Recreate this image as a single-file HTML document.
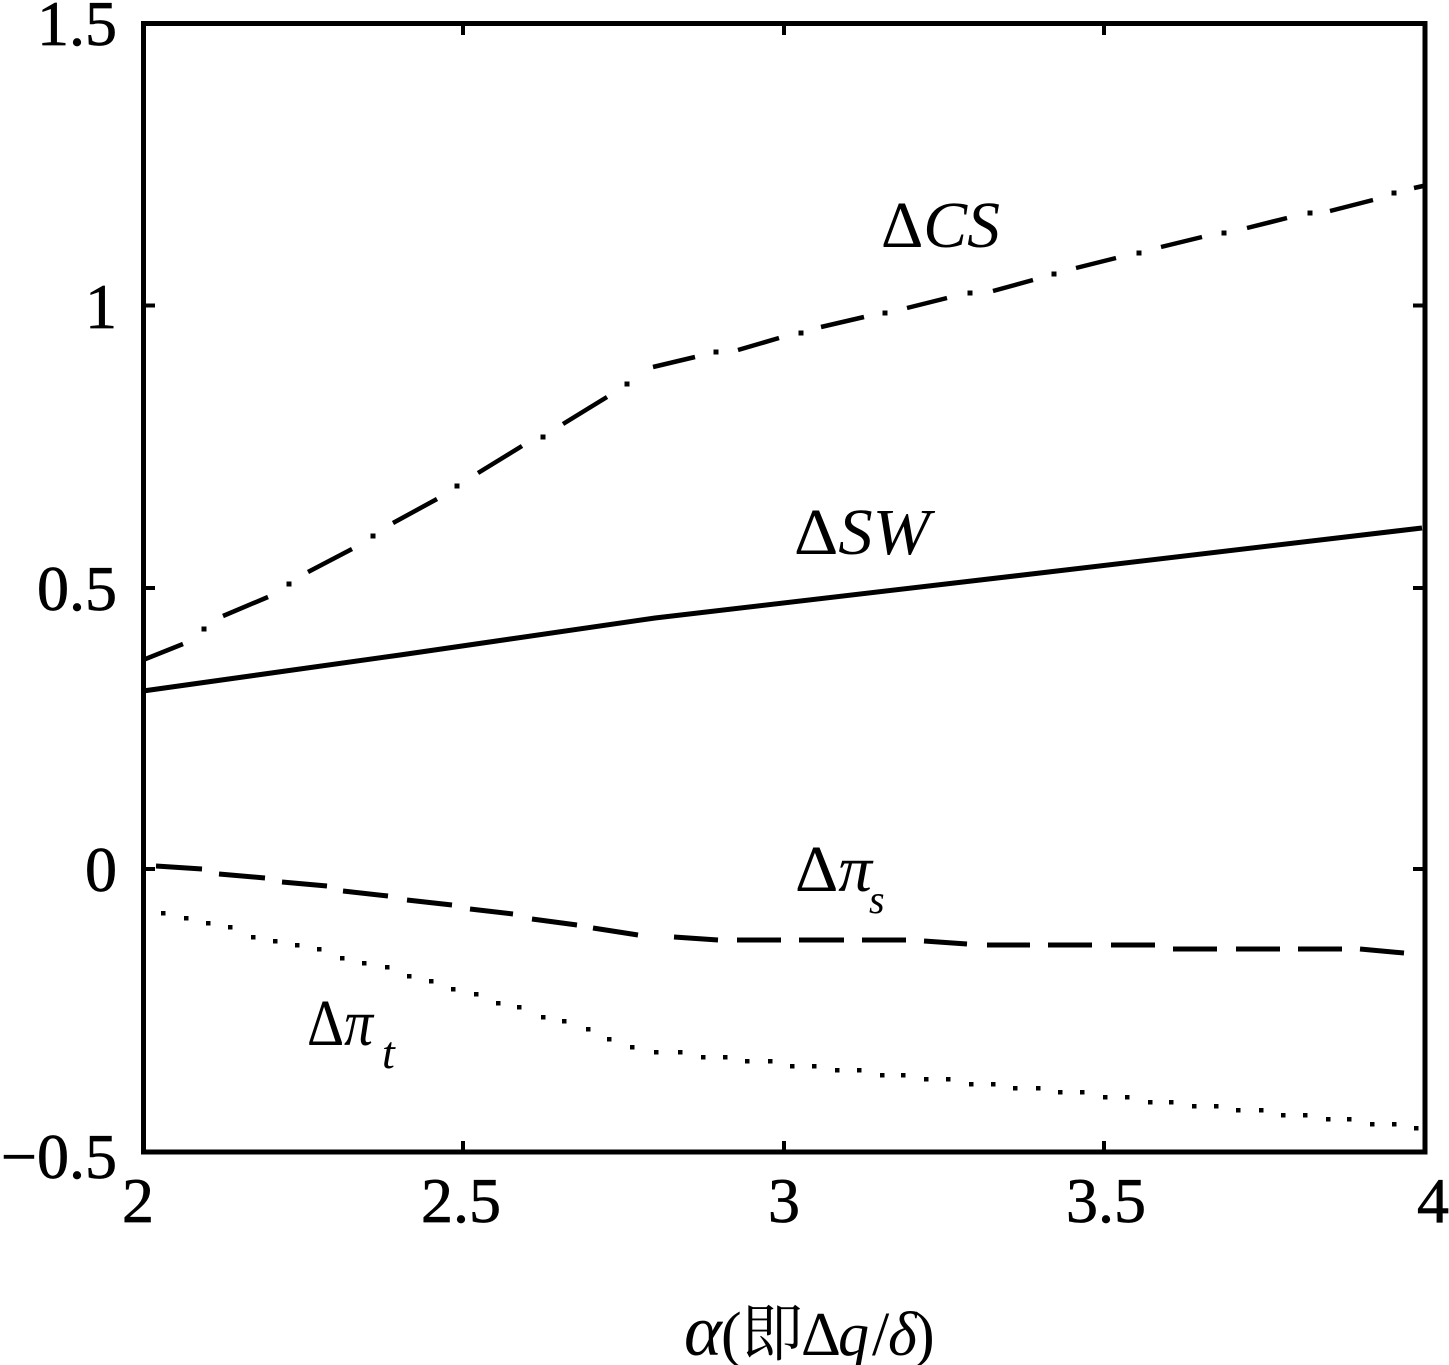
<!DOCTYPE html>
<html>
<head>
<meta charset="utf-8">
<style>
  html, body { margin: 0; padding: 0; background: #ffffff; }
  body { width: 1449px; height: 1365px; overflow: hidden; }
  svg { display: block; }
  .t { font-family: "Liberation Serif", "Noto Serif CJK SC", serif; fill: #000; }
  .i { font-style: italic; }
  .tk { stroke: #000; stroke-width: 0.7; }
</style>
</head>
<body>
<svg width="1449" height="1365" viewBox="0 0 1449 1365" xmlns="http://www.w3.org/2000/svg">
  <rect x="0" y="0" width="1449" height="1365" fill="#ffffff"/>

  <rect x="143.5" y="23.5" width="1281.5" height="1128.5" fill="none" stroke="#000" stroke-width="5"/>

  <g stroke="#000" stroke-width="4">
    <line x1="463" y1="1152" x2="463" y2="1141"/>
    <line x1="784" y1="1152" x2="784" y2="1141"/>
    <line x1="1104" y1="1152" x2="1104" y2="1141"/>
    <line x1="463" y1="23" x2="463" y2="35"/>
    <line x1="784" y1="23" x2="784" y2="35"/>
    <line x1="1104" y1="23" x2="1104" y2="35"/>
    <line x1="143" y1="305.5" x2="155" y2="305.5"/>
    <line x1="143" y1="588" x2="155" y2="588"/>
    <line x1="143" y1="869" x2="155" y2="869"/>
    <line x1="1425" y1="305.5" x2="1413" y2="305.5"/>
    <line x1="1425" y1="588" x2="1413" y2="588"/>
    <line x1="1425" y1="869" x2="1413" y2="869"/>
  </g>

  <g class="t tk" font-size="64" text-anchor="end">
    <text x="117" y="45">1.5</text>
    <text x="117" y="328">1</text>
    <text x="117" y="610">0.5</text>
    <text x="117" y="891">0</text>
    <text x="117" y="1178">−0.5</text>
  </g>

  <g class="t tk" font-size="64" text-anchor="middle">
    <text x="138" y="1222">2</text>
    <text x="461" y="1222">2.5</text>
    <text x="784" y="1222">3</text>
    <text x="1106" y="1222">3.5</text>
    <text x="1433" y="1222">4</text>
  </g>

  <text class="t" y="1355" font-size="62">
    <tspan x="684" class="i" font-size="72">α</tspan><tspan x="721">(</tspan><tspan x="741" font-family="Noto Serif CJK SC, Noto Sans CJK SC, serif" font-size="62">即</tspan><tspan x="801">Δ</tspan><tspan x="838" class="i">q</tspan><tspan x="872">/</tspan><tspan x="888" class="i">δ</tspan><tspan x="914">)</tspan>
  </text>

  <polyline points="143,691 400,655 655,618 1040,573 1422,528" fill="none" stroke="#000" stroke-width="5"/>

  <g stroke="#000" stroke-width="4.5" fill="none">
    <line x1="143" y1="660" x2="183" y2="644"/>
    <line x1="223" y1="616" x2="268" y2="597"/>
    <line x1="308" y1="572" x2="352" y2="549"/>
    <line x1="393" y1="523" x2="437" y2="499"/>
    <line x1="478" y1="473" x2="522" y2="446"/>
    <line x1="563" y1="424" x2="607" y2="397"/>
    <line x1="653" y1="367" x2="695" y2="357"/>
    <line x1="738" y1="350" x2="779" y2="338"/>
    <line x1="821" y1="327" x2="864" y2="317"/>
    <line x1="907" y1="308" x2="947" y2="298"/>
    <line x1="993" y1="291" x2="1033" y2="280"/>
    <line x1="1076" y1="268" x2="1116" y2="258"/>
    <line x1="1161" y1="247" x2="1202" y2="237"/>
    <line x1="1247" y1="228" x2="1287" y2="218"/>
    <line x1="1330" y1="211" x2="1373" y2="200"/>
    <line x1="1414" y1="188" x2="1423" y2="186"/>
  </g>
  <g fill="#000">
    <rect x="201.5" y="626.5" width="5" height="5"/>
    <rect x="286.5" y="581.5" width="5" height="5"/>
    <rect x="370.5" y="533.5" width="5" height="5"/>
    <rect x="454.5" y="483.5" width="5" height="5"/>
    <rect x="540.5" y="434.5" width="5" height="5"/>
    <rect x="624.5" y="381.5" width="5" height="5"/>
    <rect x="713.5" y="349.5" width="5" height="5"/>
    <rect x="798.5" y="330.5" width="5" height="5"/>
    <rect x="882.5" y="310.5" width="5" height="5"/>
    <rect x="967.5" y="290.5" width="5" height="5"/>
    <rect x="1051.5" y="271.5" width="5" height="5"/>
    <rect x="1136.5" y="250.5" width="5" height="5"/>
    <rect x="1221.5" y="230.5" width="5" height="5"/>
    <rect x="1307.5" y="210.5" width="5" height="5"/>
    <rect x="1391.5" y="190.5" width="5" height="5"/>
  </g>

  <g stroke="#000" stroke-width="5" fill="none">
    <line x1="156" y1="866" x2="202" y2="869"/>
    <line x1="219" y1="874" x2="265" y2="878"/>
    <line x1="282" y1="882" x2="327" y2="886"/>
    <line x1="343" y1="891" x2="388" y2="896"/>
    <line x1="407" y1="900" x2="452" y2="905"/>
    <line x1="470" y1="909" x2="513" y2="914"/>
    <line x1="532" y1="919" x2="577" y2="925"/>
    <line x1="593" y1="928" x2="638" y2="935"/>
    <line x1="674" y1="937" x2="718" y2="940"/>
    <line x1="737" y1="940" x2="781" y2="940"/>
    <line x1="799" y1="940" x2="844" y2="940"/>
    <line x1="862" y1="940" x2="906" y2="940"/>
    <line x1="924" y1="941" x2="967" y2="944"/>
    <line x1="987" y1="945" x2="1030" y2="945"/>
    <line x1="1048" y1="945" x2="1092" y2="945"/>
    <line x1="1111" y1="945" x2="1155" y2="945"/>
    <line x1="1173" y1="949" x2="1217" y2="949"/>
    <line x1="1236" y1="949" x2="1280" y2="949"/>
    <line x1="1298" y1="949" x2="1342" y2="949"/>
    <line x1="1360" y1="949" x2="1404" y2="953"/>
  </g>

  <g fill="#000">
    <rect x="161" y="911" width="4.5" height="4.5"/>
    <rect x="184" y="916" width="4.5" height="4.5"/>
    <rect x="206" y="921" width="4.5" height="4.5"/>
    <rect x="228" y="925" width="4.5" height="4.5"/>
    <rect x="251" y="935" width="4.5" height="4.5"/>
    <rect x="273" y="939" width="4.5" height="4.5"/>
    <rect x="295" y="943" width="4.5" height="4.5"/>
    <rect x="317" y="947" width="4.5" height="4.5"/>
    <rect x="340" y="956" width="4.5" height="4.5"/>
    <rect x="362" y="961" width="4.5" height="4.5"/>
    <rect x="385" y="965" width="4.5" height="4.5"/>
    <rect x="407" y="974" width="4.5" height="4.5"/>
    <rect x="429" y="979" width="4.5" height="4.5"/>
    <rect x="451" y="987" width="4.5" height="4.5"/>
    <rect x="474" y="992" width="4.5" height="4.5"/>
    <rect x="496" y="1001" width="4.5" height="4.5"/>
    <rect x="517" y="1005" width="4.5" height="4.5"/>
    <rect x="541" y="1015" width="4.5" height="4.5"/>
    <rect x="562" y="1019" width="4.5" height="4.5"/>
    <rect x="586" y="1027" width="4.5" height="4.5"/>
    <rect x="607" y="1037" width="4.5" height="4.5"/>
    <rect x="630" y="1045" width="4.5" height="4.5"/>
    <rect x="654" y="1050" width="4.5" height="4.5"/>
    <rect x="678" y="1050" width="4.5" height="4.5"/>
    <rect x="701" y="1055" width="4.5" height="4.5"/>
    <rect x="723" y="1055" width="4.5" height="4.5"/>
    <rect x="745" y="1059" width="4.5" height="4.5"/>
    <rect x="768" y="1059" width="4.5" height="4.5"/>
    <rect x="790" y="1064" width="4.5" height="4.5"/>
    <rect x="812" y="1064" width="4.5" height="4.5"/>
    <rect x="835" y="1068" width="4.5" height="4.5"/>
    <rect x="857" y="1068" width="4.5" height="4.5"/>
    <rect x="880" y="1073" width="4.5" height="4.5"/>
    <rect x="901" y="1073" width="4.5" height="4.5"/>
    <rect x="924" y="1077" width="4.5" height="4.5"/>
    <rect x="946" y="1077" width="4.5" height="4.5"/>
    <rect x="969" y="1082" width="4.5" height="4.5"/>
    <rect x="991" y="1082" width="4.5" height="4.5"/>
    <rect x="1013" y="1086" width="4.5" height="4.5"/>
    <rect x="1036" y="1086" width="4.5" height="4.5"/>
    <rect x="1058" y="1090" width="4.5" height="4.5"/>
    <rect x="1080" y="1090" width="4.5" height="4.5"/>
    <rect x="1103" y="1095" width="4.5" height="4.5"/>
    <rect x="1125" y="1095" width="4.5" height="4.5"/>
    <rect x="1148" y="1100" width="4.5" height="4.5"/>
    <rect x="1169" y="1100" width="4.5" height="4.5"/>
    <rect x="1192" y="1104" width="4.5" height="4.5"/>
    <rect x="1214" y="1104" width="4.5" height="4.5"/>
    <rect x="1236" y="1108" width="4.5" height="4.5"/>
    <rect x="1259" y="1108" width="4.5" height="4.5"/>
    <rect x="1281" y="1113" width="4.5" height="4.5"/>
    <rect x="1303" y="1113" width="4.5" height="4.5"/>
    <rect x="1326" y="1117" width="4.5" height="4.5"/>
    <rect x="1347" y="1117" width="4.5" height="4.5"/>
    <rect x="1370" y="1122" width="4.5" height="4.5"/>
    <rect x="1392" y="1122" width="4.5" height="4.5"/>
    <rect x="1414" y="1126" width="4.5" height="4.5"/>
  </g>

  <text class="t" x="881" y="247" font-size="66" textLength="119" lengthAdjust="spacingAndGlyphs">Δ<tspan class="i">CS</tspan></text>
  <text class="t" x="794" y="554" font-size="66" textLength="136" lengthAdjust="spacingAndGlyphs">Δ<tspan class="i">SW</tspan></text>
  <text class="t" x="795" y="891" font-size="66" textLength="77" lengthAdjust="spacingAndGlyphs">Δ<tspan class="i">π</tspan></text>
  <text class="t i" x="869" y="913" font-size="40">s</text>
  <text class="t" x="307" y="1045" font-size="66" textLength="66" lengthAdjust="spacingAndGlyphs">Δ<tspan class="i">π</tspan></text>
  <text class="t i" x="382" y="1068" font-size="46">t</text>
</svg>
</body>
</html>
